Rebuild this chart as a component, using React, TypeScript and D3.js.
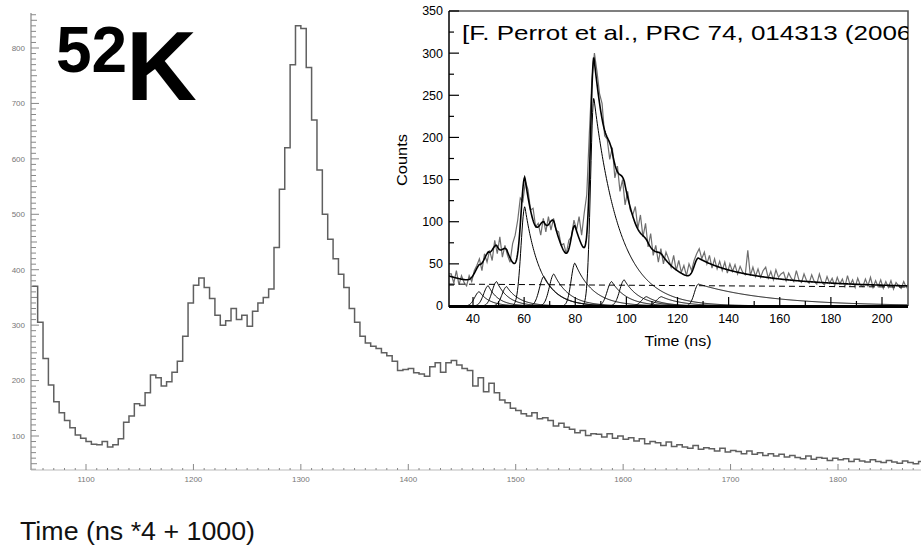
import React, { useRef, useEffect } from "react";
import * as d3 from "d3";

// main 52K time spectrum, 5-channel bins from 1050
const mainBinStart = 1050;
const mainBinWidth = 5;
const mainCounts = [
  370, 305, 240, 192, 162, 142, 128, 115, 102, 96,
  90, 85, 84, 90, 80, 84, 95, 125, 136, 158,
  155, 178, 210, 205, 190, 198, 215, 235, 280, 340,
  372, 385, 368, 348, 318, 300, 308, 330, 310, 318,
  298, 325, 340, 350, 365, 440, 545, 620, 770, 840,
  835, 765, 670, 580, 500, 455, 420, 392, 368, 330,
  305, 280, 268, 262, 258, 250, 245, 235, 218, 220,
  222, 214, 212, 208, 225, 232, 215, 232, 236, 228,
  222, 218, 190, 205, 180, 195, 178, 165, 160, 150,
  146, 140, 136, 142, 131, 133, 128, 118, 123, 116,
  112, 106, 110, 101, 104, 103, 98, 104, 96, 100,
  94, 97, 91, 95, 86, 90, 88, 83, 89, 81,
  84, 80, 78, 83, 76, 79, 77, 73, 78, 71,
  74, 72, 68, 73, 67, 70, 65, 68, 64, 67,
  62, 65, 61, 59, 64, 58, 61, 60, 56, 60,
  57, 59, 54, 58, 55, 53, 57, 54, 52, 56,
  53, 51, 55, 52, 50, 54,
];
const mainYTicks = [100, 200, 300, 400, 500, 600, 700, 800];
const mainXTicks = [1100, 1200, 1300, 1400, 1500, 1600, 1700, 1800];

// inset (Perrot et al.), 1 ns bins from 31 ns
const insetStart = 31;
const insetCounts = [
  38, 27, 42, 25, 36, 28, 24, 36, 29, 42,
  48, 56, 42, 62, 52, 66, 54, 78, 62, 82,
  58, 72, 60, 52, 74, 84, 102, 128, 124, 148,
  138, 114, 116, 94, 98, 84, 104, 88, 106, 90,
  104, 90, 88, 72, 74, 62, 78, 82, 102, 90,
  106, 84, 110, 132, 204, 268, 300, 278, 252, 240,
  202, 198, 174, 188, 152, 166, 136, 150, 120, 136,
  114, 108, 118, 92, 108, 82, 98, 70, 86, 60,
  72, 52, 68, 50, 64, 56, 46, 60, 42, 54,
  40, 48, 36, 50, 42, 54, 62, 68, 56, 64,
  50, 60, 45, 56, 44, 53, 42, 52, 39, 50,
  41, 49, 38, 47, 40, 37, 66, 36, 46, 35,
  44, 34, 42, 46, 33, 41, 31, 43, 34, 38,
  40, 30, 39, 33, 29, 42, 31, 28, 38, 30,
  27, 37, 29, 26, 38, 28, 25, 35, 27, 33,
  24, 34, 26, 32, 23, 36, 25, 31, 22, 33,
  25, 23, 32, 24, 34, 22, 30, 23, 31, 21,
  29, 22, 30, 20, 28, 24, 21, 29, 22, 27,
];
// fitted peak components: centre (ns), height, rise sigma, decay time
const peakCenter = [42.5, 46, 49.3, 53.2, 60.3, 67.8, 71.7, 79.9, 87.3, 94.3, 99.2, 108, 113.8, 128.2];
const peakHeight = [17, 24, 29, 23, 118, 35, 38, 51, 247, 29, 31, 11, 11, 26];
const peakRise = [1.8, 1.8, 1.8, 1.8, 1.5, 1.8, 1.8, 1.5, 1.3, 1.8, 1.8, 2, 2, 1.6];
const peakDecay = [4, 4, 4.5, 5, 6, 6, 6, 7, 10, 6, 6, 6, 8, 28];
// tail of the prompt peak (only inside the total fit)
const promptCenter = 20;
const promptHeight = 28;
const promptDecay = 10;
// linear background (dashed)
const bgTime = [30.6, 210];
const bgCount = [26, 22.5];
const insetXTicks = [40, 60, 80, 100, 120, 140, 160, 180, 200];
const insetYTicks = [0, 50, 100, 150, 200, 250, 300, 350];

const font = "'Liberation Sans', Arial, Helvetica, sans-serif";

const App = () => {
  const ref = useRef(null);

  useEffect(() => {
    const svg = d3.select(ref.current);
    svg.selectAll("*").remove();

    // ---------- main chart
    const x = d3.scaleLinear().domain([1100, 1800]).range([86, 838]);
    const y = d3.scaleLinear().domain([100, 800]).range([436, 48]);
    const axisX = 31;
    const axisY = 470;

    svg
      .append("clipPath")
      .attr("id", "mainClip")
      .append("rect")
      .attr("x", axisX)
      .attr("y", 0)
      .attr("width", 921 - axisX)
      .attr("height", axisY);

    // y axis
    svg
      .append("line")
      .attr("x1", axisX)
      .attr("x2", axisX)
      .attr("y1", 13)
      .attr("y2", axisY)
      .attr("stroke", "#888")
      .attr("stroke-width", 1.2);
    const yMinor = d3.range(40, 861, 10);
    svg
      .append("g")
      .selectAll("line")
      .data(yMinor)
      .enter()
      .append("line")
      .attr("x1", axisX)
      .attr("x2", (d) => axisX + (d % 100 === 0 ? 8 : d % 50 === 0 ? 6 : 5))
      .attr("y1", (d) => y(d))
      .attr("y2", (d) => y(d))
      .attr("stroke", "#888")
      .attr("stroke-width", 1);
    svg
      .append("g")
      .selectAll("text")
      .data(mainYTicks)
      .enter()
      .append("text")
      .attr("x", axisX - 6)
      .attr("y", (d) => y(d))
      .attr("dy", "0.35em")
      .attr("text-anchor", "end")
      .attr("font-family", font)
      .attr("font-size", 8)
      .attr("fill", "#777")
      .text((d) => d);

    // x axis
    svg
      .append("line")
      .attr("x1", axisX)
      .attr("x2", 921)
      .attr("y1", axisY)
      .attr("y2", axisY)
      .attr("stroke", "#bbb")
      .attr("stroke-width", 1);
    const xMinor = d3.range(1060, 1880, 10);
    svg
      .append("g")
      .selectAll("line")
      .data(xMinor)
      .enter()
      .append("line")
      .attr("x1", (d) => x(d))
      .attr("x2", (d) => x(d))
      .attr("y1", axisY)
      .attr("y2", (d) => axisY - (d % 100 === 0 ? 6 : 2))
      .attr("stroke", "#888")
      .attr("stroke-width", 1);
    svg
      .append("g")
      .selectAll("text")
      .data(mainXTicks)
      .enter()
      .append("text")
      .attr("x", (d) => x(d))
      .attr("y", 482)
      .attr("text-anchor", "middle")
      .attr("font-family", font)
      .attr("font-size", 8)
      .attr("fill", "#777")
      .text((d) => d);

    // histogram
    const pts = mainCounts.map((v, i) => [mainBinStart + i * mainBinWidth, v]);
    pts.push([mainBinStart + mainCounts.length * mainBinWidth, mainCounts[mainCounts.length - 1]]);
    const stepLine = d3
      .line()
      .x((d) => x(d[0]))
      .y((d) => y(d[1]))
      .curve(d3.curveStepAfter);
    svg
      .append("path")
      .attr("d", stepLine(pts))
      .attr("fill", "none")
      .attr("stroke", "#606060")
      .attr("stroke-width", 1.5)
      .attr("clip-path", "url(#mainClip)");

    // 52K label
    svg
      .append("text")
      .attr("x", 56)
      .attr("y", 72)
      .attr("font-family", font)
      .attr("font-weight", "bold")
      .attr("font-size", 64)
      .attr("fill", "#000")
      .text("52");
    svg
      .append("text")
      .attr("x", 126)
      .attr("y", 100)
      .attr("font-family", font)
      .attr("font-weight", "bold")
      .attr("font-size", 98)
      .attr("fill", "#000")
      .text("K");

    svg
      .append("text")
      .attr("x", 20)
      .attr("y", 540)
      .attr("font-family", font)
      .attr("font-size", 25)
      .attr("fill", "#111")
      .attr("textLength", 235)
      .attr("lengthAdjust", "spacingAndGlyphs")
      .text("Time (ns *4 + 1000)");

    // ---------- inset
    const L = 449, R = 908, T = 11, B = 306;
    const xi = d3.scaleLinear().domain([40, 200]).range([473, 882]);
    const yi = d3.scaleLinear().domain([0, 350]).range([B, T]);

    svg
      .append("clipPath")
      .attr("id", "insetClip")
      .append("rect")
      .attr("x", L)
      .attr("y", T)
      .attr("width", R - L)
      .attr("height", B - T);

    const bgAt = (t) =>
      bgCount[0] + ((bgCount[1] - bgCount[0]) * (t - bgTime[0])) / (bgTime[1] - bgTime[0]);
    const peakAt = (i, t) => {
      const c = peakCenter[i];
      if (t < c) return peakHeight[i] * Math.exp(-0.5 * ((t - c) / peakRise[i]) ** 2);
      return peakHeight[i] * Math.exp(-(t - c) / peakDecay[i]);
    };
    const fitAt = (t) =>
      bgAt(t) +
      promptHeight * Math.exp(-(t - promptCenter) / promptDecay) +
      d3.sum(peakCenter, (_, i) => peakAt(i, t));

    const tGrid = d3.range(bgTime[0], bgTime[1] + 0.1, 0.2);
    const curve = d3
      .line()
      .x((d) => xi(d[0]))
      .y((d) => yi(d[1]));

    const plot = svg.append("g").attr("clip-path", "url(#insetClip)");

    // data (drawn point to point, as in the original scan)
    const ipts = insetCounts.map((v, i) => [insetStart + i + 0.5, v]);
    ipts.unshift([bgTime[0], insetCounts[0]]);
    plot
      .append("path")
      .attr("d", curve(ipts))
      .attr("fill", "none")
      .attr("stroke", "#6e6e6e")
      .attr("stroke-width", 1.2);

    // components
    peakCenter.forEach((c, i) => {
      const ts = tGrid.filter((t) => t >= c - 4 * peakRise[i]);
      plot
        .append("path")
        .attr("d", curve(ts.map((t) => [t, peakAt(i, t)])))
        .attr("fill", "none")
        .attr("stroke", "#000")
        .attr("stroke-width", 1);
    });

    // background
    plot
      .append("line")
      .attr("x1", xi(bgTime[0]))
      .attr("x2", xi(bgTime[1]))
      .attr("y1", yi(bgCount[0]))
      .attr("y2", yi(bgCount[1]))
      .attr("stroke", "#000")
      .attr("stroke-width", 1)
      .attr("stroke-dasharray", "6,4");

    // total fit
    plot
      .append("path")
      .attr("d", curve(tGrid.map((t) => [t, fitAt(t)])))
      .attr("fill", "none")
      .attr("stroke", "#000")
      .attr("stroke-width", 1.6);

    // frame
    svg
      .append("path")
      .attr("d", `M${L},${T}H${R}V${B}`)
      .attr("fill", "none")
      .attr("stroke", "#555")
      .attr("stroke-width", 1.6);
    svg
      .append("line")
      .attr("x1", L)
      .attr("x2", L)
      .attr("y1", T)
      .attr("y2", B + 1)
      .attr("stroke", "#000")
      .attr("stroke-width", 1.5);
    svg
      .append("line")
      .attr("x1", L)
      .attr("x2", R)
      .attr("y1", B + 0.5)
      .attr("y2", B + 0.5)
      .attr("stroke", "#000")
      .attr("stroke-width", 3);

    // inset y ticks
    svg
      .append("g")
      .selectAll("line")
      .data(d3.range(0, 351, 25))
      .enter()
      .append("line")
      .attr("x1", L)
      .attr("x2", (d) => L + (d % 50 === 0 ? 10 : 5))
      .attr("y1", (d) => yi(d))
      .attr("y2", (d) => yi(d))
      .attr("stroke", "#000")
      .attr("stroke-width", 1.2);
    svg
      .append("g")
      .selectAll("text")
      .data(insetYTicks)
      .enter()
      .append("text")
      .attr("x", L - 6)
      .attr("y", (d) => yi(d))
      .attr("dy", "0.35em")
      .attr("text-anchor", "end")
      .attr("font-family", font)
      .attr("font-size", 12.5)
      .attr("fill", "#000")
      .text((d) => d);

    // inset x ticks
    svg
      .append("g")
      .selectAll("line")
      .data(d3.range(40, 210, 10))
      .enter()
      .append("line")
      .attr("x1", (d) => xi(d))
      .attr("x2", (d) => xi(d))
      .attr("y1", B)
      .attr("y2", (d) => B - (d % 20 === 0 ? 9 : 5))
      .attr("stroke", "#000")
      .attr("stroke-width", 1.2);
    svg
      .append("g")
      .selectAll("text")
      .data(insetXTicks)
      .enter()
      .append("text")
      .attr("x", (d) => xi(d))
      .attr("y", 323)
      .attr("text-anchor", "middle")
      .attr("font-family", font)
      .attr("font-size", 12.5)
      .attr("fill", "#000")
      .text((d) => d);

    svg
      .append("text")
      .attr("x", 678)
      .attr("y", 346)
      .attr("text-anchor", "middle")
      .attr("font-family", font)
      .attr("font-size", 14)
      .attr("fill", "#000")
      .attr("textLength", 67)
      .attr("lengthAdjust", "spacingAndGlyphs")
      .text("Time (ns)");
    svg
      .append("text")
      .attr("transform", "translate(407,160) rotate(-90)")
      .attr("text-anchor", "middle")
      .attr("font-family", font)
      .attr("font-size", 14)
      .attr("fill", "#000")
      .attr("textLength", 52)
      .attr("lengthAdjust", "spacingAndGlyphs")
      .text("Counts");

    svg
      .append("g")
      .attr("clip-path", "url(#insetClip)")
      .append("text")
      .attr("x", 462)
      .attr("y", 40)
      .attr("font-family", font)
      .attr("font-size", 21)
      .attr("fill", "#000")
      .attr("textLength", 458)
      .attr("lengthAdjust", "spacingAndGlyphs")
      .text("[F. Perrot et al., PRC 74, 014313 (2006)");
  }, []);

  return (
    <svg
      ref={ref}
      width={921}
      height={552}
      style={{ position: "absolute", left: 0, top: 0, display: "block", background: "#fff" }}
    />
  );
};

export default App;
